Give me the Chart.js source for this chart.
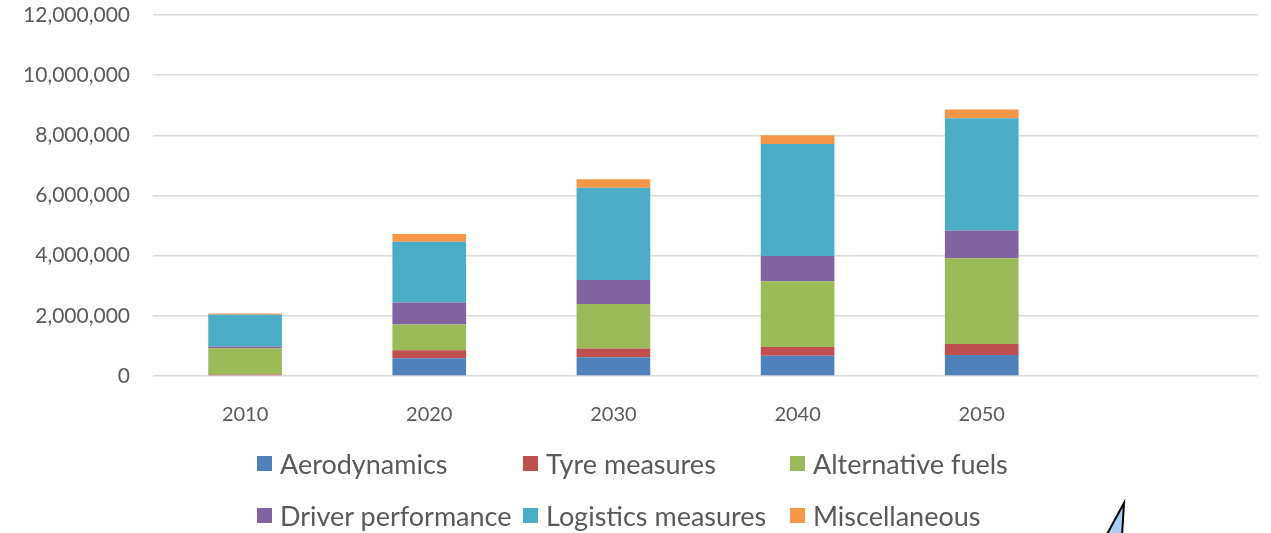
<!DOCTYPE html>
<html>
<head>
<meta charset="utf-8">
<script src="https://cdn.jsdelivr.net/npm/chart.js@4"></script>
<style>
  html, body { margin: 0; padding: 0; background: #fff; }
  #wrap { position: relative; width: 1271px; height: 533px; overflow: hidden; }
  #chart { display: block; }
  #legend {
    position: absolute; left: 257px; top: 437px;
    display: grid; grid-template-columns: 266px 267px 266px; grid-auto-rows: 52px;
    font-family: Lato, sans-serif; font-size: 27px; color: #595959;
  }
  .item { display: flex; align-items: center; white-space: nowrap; }
  .box { width: 15px; height: 15px; margin-right: 8px; flex: none; }
</style>
</head>
<body>
<div id="wrap">
  <canvas id="chart" width="1271" height="533"></canvas>
  <div id="legend"></div>
</div>
<script>
// categories (last slot is left empty on purpose)
const years = ["2010", "2020", "2030", "2040", "2050", ""];

// series values
const aerodynamics = [0, 590000, 620000, 670000, 700000, null];
const tyreMeasures = [50000, 270000, 290000, 290000, 360000, null];
const alternativeFuels = [870000, 850000, 1480000, 2190000, 2850000, null];
const driverPerformance = [60000, 730000, 800000, 840000, 930000, null];
const logisticsMeasures = [1060000, 2020000, 3070000, 3720000, 3730000, null];
const miscellaneous = [40000, 260000, 280000, 290000, 290000, null];

const yTicks = [0, 2000000, 4000000, 6000000, 8000000, 10000000, 12000000];

const series = [
  { label: "Aerodynamics", data: aerodynamics, color: "#4F81BD" },
  { label: "Tyre measures", data: tyreMeasures, color: "#C0504D" },
  { label: "Alternative fuels", data: alternativeFuels, color: "#9BBB59" },
  { label: "Driver performance", data: driverPerformance, color: "#8064A2" },
  { label: "Logistics measures", data: logisticsMeasures, color: "#4BACC6" },
  { label: "Miscellaneous", data: miscellaneous, color: "#F79646" },
];

// little pen-drawn triangle in the lower right corner
const cornerSketch = {
  id: "cornerSketch",
  afterDraw(chart) {
    const ctx = chart.ctx;
    ctx.save();
    ctx.beginPath();
    ctx.moveTo(1124, 503);
    ctx.lineTo(1106, 536);
    ctx.lineTo(1122, 536);
    ctx.closePath();
    ctx.fillStyle = "#a8d0f5";
    ctx.fill();
    ctx.lineWidth = 2;
    ctx.strokeStyle = "#000";
    ctx.stroke();
    ctx.restore();
  },
};

const chart = new Chart(document.getElementById("chart"), {
  type: "bar",
  data: {
    labels: years,
    datasets: series.map((s) => ({
      label: s.label,
      data: s.data,
      backgroundColor: s.color,
      borderWidth: 0,
      barPercentage: 0.4,
      categoryPercentage: 1,
    })),
  },
  options: {
    responsive: false,
    animation: false,
    layout: { padding: { top: 15, right: 13, bottom: 93, left: 0 } },
    plugins: {
      legend: { display: false },
      tooltip: { enabled: false },
    },
    scales: {
      x: {
        stacked: true,
        grid: { display: false },
        border: { display: false },
        ticks: {
          color: "#595959",
          font: { family: "Lato", size: 20 },
          padding: 19,
          maxRotation: 0,
        },
        afterFit(scale) {
          scale.height = 64;
        },
      },
      y: {
        stacked: true,
        min: 0,
        max: 12000000,
        afterBuildTicks(scale) {
          scale.ticks = yTicks.map((v) => ({ value: v }));
        },
        grid: { color: "#d9d9d9", lineWidth: 1.5, drawTicks: false },
        border: { display: false },
        ticks: {
          color: "#595959",
          font: { family: "Lato", size: 21 },
          padding: 23,
          callback: (v) => v.toLocaleString("en-US"),
        },
        afterFit(scale) {
          scale.width = 153;
          scale.paddingTop = 0;
          scale.paddingBottom = 0;
        },
      },
    },
  },
  plugins: [cornerSketch],
});

// legend laid out in three aligned columns
const legend = document.getElementById("legend");
chart.data.datasets.forEach((ds) => {
  const item = document.createElement("div");
  item.className = "item";
  const box = document.createElement("span");
  box.className = "box";
  box.style.background = ds.backgroundColor;
  item.appendChild(box);
  item.appendChild(document.createTextNode(ds.label));
  legend.appendChild(item);
});
</script>
</body>
</html>
